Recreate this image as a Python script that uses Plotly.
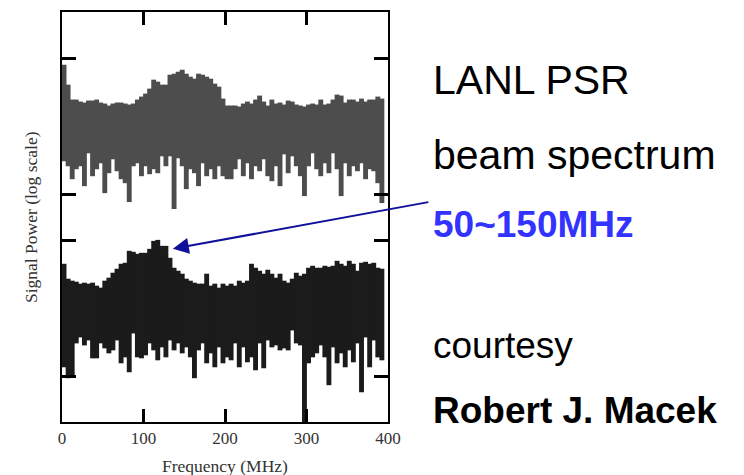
import plotly.graph_objects as go

# Frequency bins (MHz, bin start; each bin is 5 MHz wide)
freq_mhz = [0, 5, 10, 15, 20, 25, 30, 35, 40, 45, 50, 55, 60, 65, 70, 75, 80, 85, 90, 95,
            100, 105, 110, 115, 120, 125, 130, 135, 140, 145, 150, 155, 160, 165, 170, 175,
            180, 185, 190, 195, 200, 205, 210, 215, 220, 225, 230, 235, 240, 245, 250, 255,
            260, 265, 270, 275, 280, 285, 290, 295, 300, 305, 310, 315, 320, 325, 330, 335,
            340, 345, 350, 355, 360, 365, 370, 375, 380, 385, 390]
bin_width = 5

# Upper spectrum (grey): max / min level per bin (relative log-power units)
top_hi = [359, 339, 324, 324, 322, 321, 323, 323, 324, 321, 320, 318, 320, 321, 321, 320, 319, 320,
          324, 327, 330, 335, 344, 342, 339, 339, 349, 350, 352, 354, 350, 347, 345, 350, 349, 347,
          345, 340, 337, 325, 318, 318, 318, 317, 320, 322, 320, 324, 328, 322, 318, 324, 320, 321,
          319, 323, 322, 319, 318, 317, 319, 320, 319, 324, 319, 320, 324, 329, 328, 321, 324, 324,
          322, 325, 322, 324, 324, 327, 325]
top_lo = [262, 257, 244, 254, 257, 237, 270, 247, 254, 260, 230, 250, 264, 252, 244, 240, 221, 257,
          260, 247, 257, 249, 254, 250, 267, 257, 267, 214, 265, 257, 234, 254, 250, 237, 260, 247,
          254, 244, 257, 247, 244, 244, 254, 264, 247, 260, 244, 257, 252, 264, 247, 242, 257, 237,
          269, 250, 267, 257, 247, 227, 257, 270, 254, 247, 260, 250, 270, 254, 227, 260, 247, 257,
          252, 260, 244, 254, 252, 240, 220]

# Lower spectrum (black): max / min level per bin
bot_hi = [159, 144, 142, 141, 139, 140, 139, 140, 137, 135, 142, 145, 150, 154, 159, 160, 172, 171,
          169, 170, 170, 174, 182, 183, 177, 177, 165, 155, 152, 149, 144, 142, 140, 139, 139, 149,
          137, 139, 135, 139, 137, 139, 137, 142, 140, 142, 159, 155, 152, 149, 153, 149, 145, 149,
          142, 140, 144, 150, 147, 149, 155, 157, 155, 155, 157, 156, 157, 162, 159, 157, 162, 159,
          152, 160, 161, 159, 160, 155, 154]
bot_lo = [55, 44, 45, 79, 85, 77, 82, 64, 64, 79, 74, 69, 72, 82, 59, 65, 50, 89, 65, 64, 67, 79,
          72, 62, 75, 65, 82, 72, 79, 69, 75, 65, 44, 72, 79, 59, 69, 55, 75, 59, 65, 62, 79, 55,
          75, 60, 65, 52, 79, 54, 82, 75, 77, 72, 74, 72, 92, 79, 77, 0, 59, 65, 69, 77, 65, 37,
          75, 59, 69, 55, 72, 60, 79, 30, 85, 55, 82, 65, 62]

x_ticks = [0, 100, 200, 300, 400]
x_ticktext = ["0", "100", "200", "300", "400"]
y_ticks = [46, 182, 229, 365]   # decade marks of the two stacked panels

centers = [f + bin_width / 2 for f in freq_mhz]
bar_draw_width = bin_width * 1.2   # slight overlap so adjacent bins join without seams

fig = go.Figure()
fig.add_trace(go.Bar(
    x=centers, base=top_lo, y=[h - l for h, l in zip(top_hi, top_lo)],
    width=bar_draw_width, marker=dict(color="#4d4d4d", line=dict(width=0)),
    showlegend=False, hoverinfo="skip"))
fig.add_trace(go.Bar(
    x=centers, base=bot_lo, y=[h - l for h, l in zip(bot_hi, bot_lo)],
    width=bar_draw_width, marker=dict(color="#1b1b1b", line=dict(width=0)),
    showlegend=False, hoverinfo="skip"))

serif = "Liberation Serif, Times New Roman, serif"
sans = "Liberation Sans, Arial, sans-serif"

fig.update_layout(
    width=744, height=475,
    margin=dict(l=62, r=356, t=10, b=53),
    paper_bgcolor="white", plot_bgcolor="white",
    barmode="overlay",
    xaxis=dict(range=[0, 400], tickvals=x_ticks, ticktext=x_ticktext,
               showgrid=False, zeroline=False,
               showline=True, linewidth=2, linecolor="black", mirror="ticks",
               ticks="inside", ticklen=13, tickwidth=2.5, tickcolor="black",
               tickfont=dict(family=serif, size=17, color="#333333")),
    yaxis=dict(range=[0, 412], tickvals=y_ticks, showticklabels=False,
               showgrid=False, zeroline=False,
               showline=True, linewidth=2, linecolor="black", mirror="ticks",
               ticks="inside", ticklen=14, tickwidth=2.5, tickcolor="black"),
)

annos = [
    dict(text="Frequency (MHz)", x=0.5, y=-0.108, xanchor="center", yanchor="middle",
         font=dict(family=serif, size=17.5, color="#333333")),
    dict(text="Signal Power (log scale)", x=-0.095, y=0.5, xanchor="center", yanchor="middle",
         textangle=-90, font=dict(family=serif, size=17.5, color="#333333")),
    dict(text="LANL PSR", x=1.132, y=0.835, xanchor="left", yanchor="middle",
         font=dict(family=sans, size=41, color="black")),
    dict(text="beam spectrum", x=1.132, y=0.652, xanchor="left", yanchor="middle",
         font=dict(family=sans, size=41, color="black")),
    dict(text="<b>50~150MHz</b>", x=1.132, y=0.482, xanchor="left", yanchor="middle",
         font=dict(family=sans, size=37, color="#3333ff")),
    dict(text="courtesy", x=1.132, y=0.187, xanchor="left", yanchor="middle",
         font=dict(family=sans, size=37, color="black")),
    dict(text="<b>Robert J. Macek</b>", x=1.132, y=0.027, xanchor="left", yanchor="middle",
         font=dict(family=sans, size=37, color="black")),
]
for a in annos:
    fig.add_annotation(xref="paper", yref="paper", showarrow=False, **a)

# Arrow pointing at the 50~150 MHz bump of the lower spectrum
fig.add_annotation(xref="x", yref="y", x=136, y=174, ax=257, ay=-47,
                   showarrow=True, arrowhead=2, arrowsize=1.6, arrowwidth=2,
                   arrowcolor="#10109a", text="")

fig.write_html("out.html")
